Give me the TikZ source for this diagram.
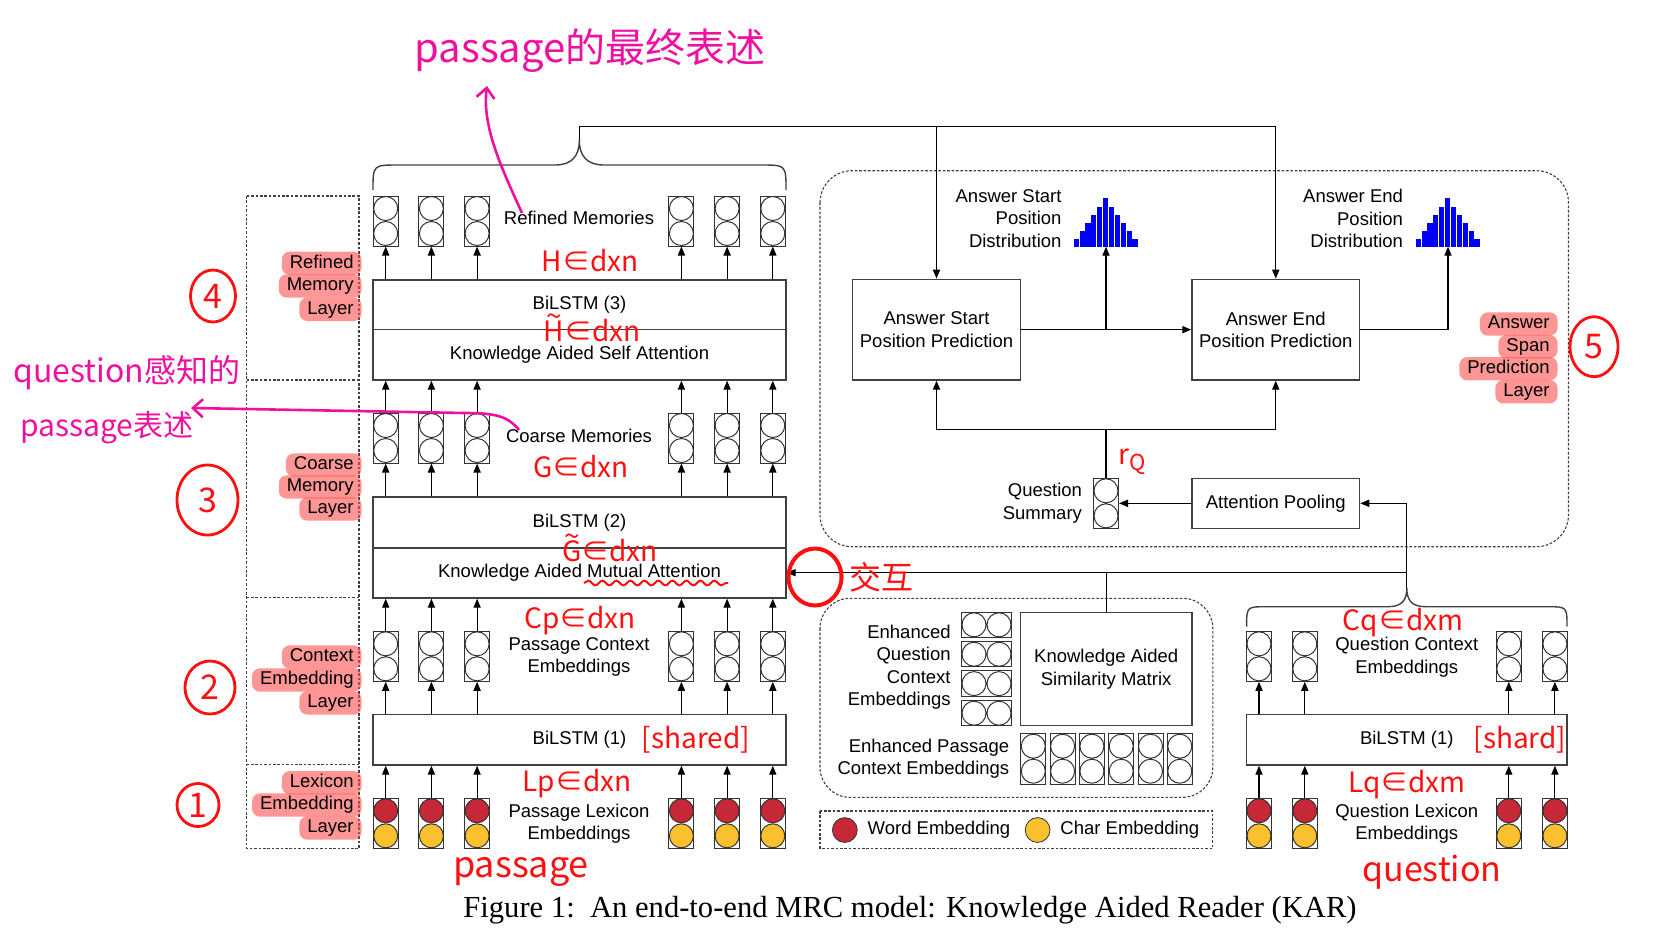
\documentclass[tikz,border=0pt]{standalone}
\usepackage{fontspec}
\setmainfont{Liberation Sans}
\newfontfamily\capfont{Liberation Serif}
\newfontfamily\cjk{Noto Sans CJK SC}
\usetikzlibrary{arrows.meta,positioning,shapes.geometric,decorations.pathmorphing}
\definecolor{wordred}{RGB}{198,40,56}
\definecolor{charyel}{RGB}{251,192,45}
\definecolor{histblue}{RGB}{0,0,245}
\definecolor{annred}{RGB}{255,16,16}
\definecolor{annmag}{RGB}{240,16,160}
\definecolor{hlred}{RGB}{255,80,80}
\newcommand\tld[1]{\rlap{\raisebox{7.5pt}{\kern1.2pt\textasciitilde}}#1}
\tikzset{
  arr/.style={-{Triangle[length=4.5pt,width=3.6pt]}, line width=0.55pt},
  blk/.style={draw=black!75, line width=0.7pt, minimum width=206.5pt, inner sep=0pt},
  rbox/.style={draw=black!75, line width=0.7pt, minimum width=83.8pt, minimum height=50.35pt, inner sep=0pt, align=center},
  dbox/.style={draw=black!75, line width=0.55pt, dash pattern=on 1.3pt off 0.9pt},
  brc/.style={draw=black!75, line width=0.7pt},
  cellv/.style={draw=black!80, line width=0.5pt, minimum width=12.5pt, minimum height=25pt, inner sep=0pt,
    path picture={\draw[line width=0.5pt] ([yshift=6.25pt]path picture bounding box.center) circle (6pt)
      ([yshift=-6.25pt]path picture bounding box.center) circle (6pt);}},
  cellh/.style={draw=black!80, line width=0.5pt, minimum width=25pt, minimum height=12.7pt, inner sep=0pt,
    path picture={\draw[line width=0.5pt] ([xshift=6.25pt]path picture bounding box.center) circle (6pt)
      ([xshift=-6.25pt]path picture bounding box.center) circle (6pt);}},
  lexv/.style={draw=black!80, line width=0.5pt, minimum width=12.5pt, minimum height=25pt, inner sep=0pt,
    path picture={\filldraw[line width=0.5pt, fill=wordred] ([yshift=6.25pt]path picture bounding box.center) circle (6pt);
      \filldraw[line width=0.5pt, fill=charyel] ([yshift=-6.25pt]path picture bounding box.center) circle (6pt);}},
  hl/.style={fill=hlred, fill opacity=0.6, text opacity=1, rounded corners=4pt, inner xsep=4pt, inner ysep=1.5pt,
    text height=6.8pt, text depth=1.9pt, anchor=east},
  ann/.style={text=annred, font=\cjk\fontsize{14}{16}\selectfont, inner sep=0pt},
  mag/.style={text=annmag, font=\cjk\fontsize{16}{18}\selectfont, inner sep=0pt},
  numc/.style={ellipse, draw=annred, line width=1.4pt, text=annred, font=\cjk\fontsize{17}{17}\selectfont, inner sep=0pt},
  magarr/.style={draw=annmag, line width=1.3pt, -{Straight Barb[length=5pt,width=9pt]}}
}
\begin{document}
\begin{tikzpicture}[x=0.5pt, y=-0.5pt, font=\fontsize{9.25}{11.25}\selectfont]
\useasboundingbox (0,0) rectangle (1670,934);

% layer column
\draw[dbox] (246.5,196) rectangle (359,848.3);
\draw[dbox] (246.5,380) -- (359,380) (246.5,597.5) -- (359,597.5) (246.5,764.5) -- (359,764.5);
\foreach \t/\y [count=\i] in {Refined/263.3, Memory/286, Layer/309.3}
  \node[hl] (lr\i) at (362,\y) {\t};
\foreach \t/\y [count=\i] in {Coarse/465, Memory/487, Layer/509}
  \node[hl] (lc\i) at (362,\y) {\t};
\foreach \t/\y [count=\i] in {Context/657, Embedding/680, Layer/703}
  \node[hl] (lx\i) at (362,\y) {\t};
\foreach \t/\y [count=\i] in {Lexicon/782.7, Embedding/805, Layer/828}
  \node[hl] (ll\i) at (362,\y) {\t};

% passage side
\node[blk, minimum height=24.75pt] (b3) at (579.5,304.75) {BiLSTM (3)};
\node[blk, minimum height=25.25pt] (k3) at (579.5,354.75) {Knowledge Aided Self Attention};
\node[blk, minimum height=25.5pt] (b2) at (579.5,522.5) {BiLSTM (2)};
\node[blk, minimum height=25pt] (k2) at (579.5,573) {Knowledge Aided Mutual Attention};
\node[blk, minimum height=25.35pt] (b1) at (579.5,739.65) {BiLSTM (1)};

\foreach \x [count=\i] in {385.7,431.4,477.1,681.4,727.1,772.8}{
  \node[cellv] (rm\i) at (\x,221) {};
  \node[cellv] (cm\i) at (\x,438) {};
  \node[cellv] (pc\i) at (\x,656.3) {};
  \node[lexv] (pl\i) at (\x,823.3) {};
  \draw[arr] (rm\i.south |- b3.north) -- (rm\i.south);
  \draw[arr] (cm\i.north) -- (cm\i.north |- k3.south);
  \draw[arr] (cm\i.south |- b2.north) -- (cm\i.south);
  \draw[arr] (pc\i.north) -- (pc\i.north |- k2.south);
  \draw[arr] (pc\i.south |- b1.north) -- (pc\i.south);
  \draw[arr] (pl\i.north) -- (pl\i.north |- b1.south);
}
\node (rmt) at (579,218.3) {Refined Memories};
\node (cmt) at (579,436) {Coarse Memories};
\node[align=center] (pct) at (579,657) {Passage Context\\Embeddings};
\node[align=center] (plt) at (579,823.6) {Passage Lexicon\\Embeddings};

\draw[brc] (373,190) .. controls (373,165) .. (398,165) -- (555,165)
  .. controls (572,165) and (579.3,156) .. (579.3,140)
  .. controls (579.3,156) and (587,165) .. (604,165) -- (761,165)
  .. controls (786,165) .. (786,190);
\coordinate (pbtip) at (579.3,140);
\coordinate (pbt) at (579.3,126.7);
\draw[line width=0.55pt] (pbtip) -- (pbt);

% answer span prediction
\draw[dbox, rounded corners=16pt] (820,170.7) rectangle (1568.5,546.7);
\node[rbox] (stp) at (936.5,329.65) {Answer Start\\Position Prediction};
\node[rbox] (endp) at (1275.75,329.65) {Answer End\\Position Prediction};
\draw[arr] (pbt) -| (endp.north);
\draw[arr] (stp.north |- pbt) -- (stp.north);
\draw[arr] (stp.east) -- (endp.west);
\coordinate (hs) at (1106,246.7);
\coordinate (he) at (1448,246.7);
\draw[arr] (stp.east -| hs) -- (hs);
\draw[arr] (endp.east) -| (he);
\foreach \h [count=\i] in {7.3,15.7,23.3,31.7,40,48.3,40,31.7,23.3,15.7,7.3}{
  \fill[histblue] (1067.83+\i*5.87,246.7) rectangle ++(5.1,-\h);
  \fill[histblue] (1409.83+\i*5.87,246.7) rectangle ++(5.1,-\h);
}
\node[align=right, anchor=east] (hst) at (1068.6,218.6) {Answer Start\\Position\\Distribution};
\node[align=right, anchor=east] (het) at (1410,218.6) {Answer End\\Position\\Distribution};
\foreach \t/\y [count=\i] in {Answer/324, Span/346.7, Prediction/368.7, Layer/391.7}
  \node[hl] (la\i) at (1558,\y) {\t};

\node[cellv] (qs) at (1106,503.3) {};
\node[align=right, left=2pt of qs] (qst) {Question\\Summary};
\node[rbox, minimum height=25pt] (ap) at (1275.75,503.3) {Attention Pooling};
\coordinate (jn) at (1106,429.3);
\draw[line width=0.55pt] (qs.north) -- (jn);
\draw[arr] (jn) -| (stp.south);
\draw[arr] (jn) -| (endp.south);
\draw[arr] (ap.west) -- (qs.east);

% similarity matrix
\draw[dbox, rounded corners=15pt] (820,598.3) rectangle (1212.8,797.3);
\node[rbox, minimum width=85.85pt, minimum height=56.7pt] (km) at (1106.15,669) {Knowledge Aided\\Similarity Matrix};
\foreach \y [count=\i] in {624.8,654.2,683.6,713.2}
  \node[cellh] (eq\i) at (986.5,\y) {};
\node[align=right, anchor=east] (eqt) at (957.7,667) {Enhanced\\Question\\Context\\Embeddings};
\foreach \x [count=\i] in {1033.3,1062.6,1091.9,1121.2,1150.5,1179.8}
  \node[cellv, minimum height=25.35pt] (epc\i) at (\x,758.7) {};
\node[align=right, left=2pt of epc1] (ept) {Enhanced Passage\\Context Embeddings};

% legend
\draw[dbox] (820,811) rectangle (1212.8,848.3);
\node[circle, draw=black!80, fill=wordred, minimum size=12.4pt, inner sep=0pt] (lw) at (844.8,830) {};
\node[right=1.5pt of lw] (lwt) {Word Embedding};
\node[circle, draw=black!80, fill=charyel, minimum size=12.4pt, inner sep=0pt] (lch) at (1037.6,830) {};
\node[right=1.5pt of lch] (lcht) {Char Embedding};

% question side
\draw[brc] (1246.6,626.7) .. controls (1246.6,606.7) .. (1266.6,606.7) -- (1388,606.7)
  .. controls (1402,606.7) and (1406.8,600) .. (1406.8,588)
  .. controls (1406.8,600) and (1411.6,606.7) .. (1425.6,606.7) -- (1547,606.7)
  .. controls (1567,606.7) .. (1567,626.7);
\coordinate (qbt) at (1406.8,588);
\node[blk, minimum width=160.2pt, minimum height=25.35pt] (qb) at (1406.8,739.65) {BiLSTM (1)};
\foreach \x [count=\i] in {1259,1304.8,1508.8,1554.9}{
  \node[cellv] (qc\i) at (\x,656.3) {};
  \node[lexv] (ql\i) at (\x,823.3) {};
  \draw[arr] (qc\i.south |- qb.north) -- (qc\i.south);
  \draw[arr] (ql\i.north) -- (ql\i.north |- qb.south);
}
\node[align=center] (qct) at (1406.8,657) {Question Context\\Embeddings};
\node[align=center] (qlt) at (1406.8,823.6) {Question Lexicon\\Embeddings};
\coordinate (xj) at (1406.8,572.7);
\draw[arr] (qbt) |- (ap.east);
\draw[arr] (xj) -- (xj -| k2.east);
\draw[line width=0.55pt] (xj -| km.north) -- (km.north);

% caption
\node[font=\capfont\fontsize{15.3}{18}\selectfont, anchor=base] (cap) at (910,917)
  {Figure 1:\ \ An end-to-end MRC model: Knowledge Aided Reader (KAR)};

% notes
\node[ann] (nH) at (590,261) {H∈dxn};
\node[ann] (nHt) at (592,328) {\tld{H}∈dxn};
\node[ann] (nG) at (581,467) {G∈dxn};
\node[ann] (nGt) at (610,548) {\tld{G}∈dxn};
\draw[annred, line width=1pt, decorate, decoration={snake, amplitude=1.2pt, segment length=7pt}] (584,583) -- (728,583);
\node[ann] (nCp) at (580,621) {Cp∈dxn};
\node[ann] (nsh) at (696,740) {[shared]};
\node[ann] (nLp) at (577,784) {Lp∈dxn};
\node[ann, font=\cjk\fontsize{18}{20}\selectfont] (npa) at (521,872) {passage};
\node[ann] (nCq) at (1403,623) {Cq∈dxm};
\node[ann] (nsd) at (1520,740) {[shard]};
\node[ann] (nLq) at (1407,785) {Lq∈dxm};
\node[ann, font=\cjk\fontsize{17}{20}\selectfont] (nqu) at (1432,872) {question};
\node[ann] (nrq) at (1132,462) {r\raisebox{-3pt}{\fontsize{11}{11}\selectfont Q}};
\node[ann, font=\cjk\fontsize{16}{18}\selectfont] (njh) at (881,577) {交互};
\node[ellipse, draw=annred, line width=2pt, minimum width=26.5pt, minimum height=28.5pt] (nring) at (815,577) {};
\node[numc, minimum width=22.5pt, minimum height=26pt] (n4) at (213,296) {4};
\node[numc, minimum width=30.5pt, minimum height=35pt] (n3) at (207.5,500) {3};
\node[numc, minimum width=25pt, minimum height=26.5pt] (n2) at (210,687.5) {2};
\node[numc, minimum width=21pt, minimum height=21.5pt] (n1) at (198,805) {1};
\node[numc, minimum width=24pt, minimum height=30pt] (n5) at (1594,346.7) {5};

\node[mag, font=\cjk\fontsize{20}{24}\selectfont, anchor=base] (mtop) at (590,62) {passage的最终表述};
\node[mag, anchor=base west] (mq1) at (13,382) {question感知的};
\node[mag, font=\cjk\fontsize{15}{18}\selectfont, anchor=base west] (mq2) at (20,436) {passage表述};
\coordinate (m1s) at (522,213);
\coordinate (m1e) at (487,86);
\draw[magarr] (m1s) .. controls (500,165) and (482,125) .. (m1e);
\coordinate (m2s) at (519,430);
\coordinate (m2e) at (191,408);
\draw[magarr] (m2s) .. controls (508,416) and (495,413) .. (465,413) -- (m2e);
\end{tikzpicture}
\end{document}
